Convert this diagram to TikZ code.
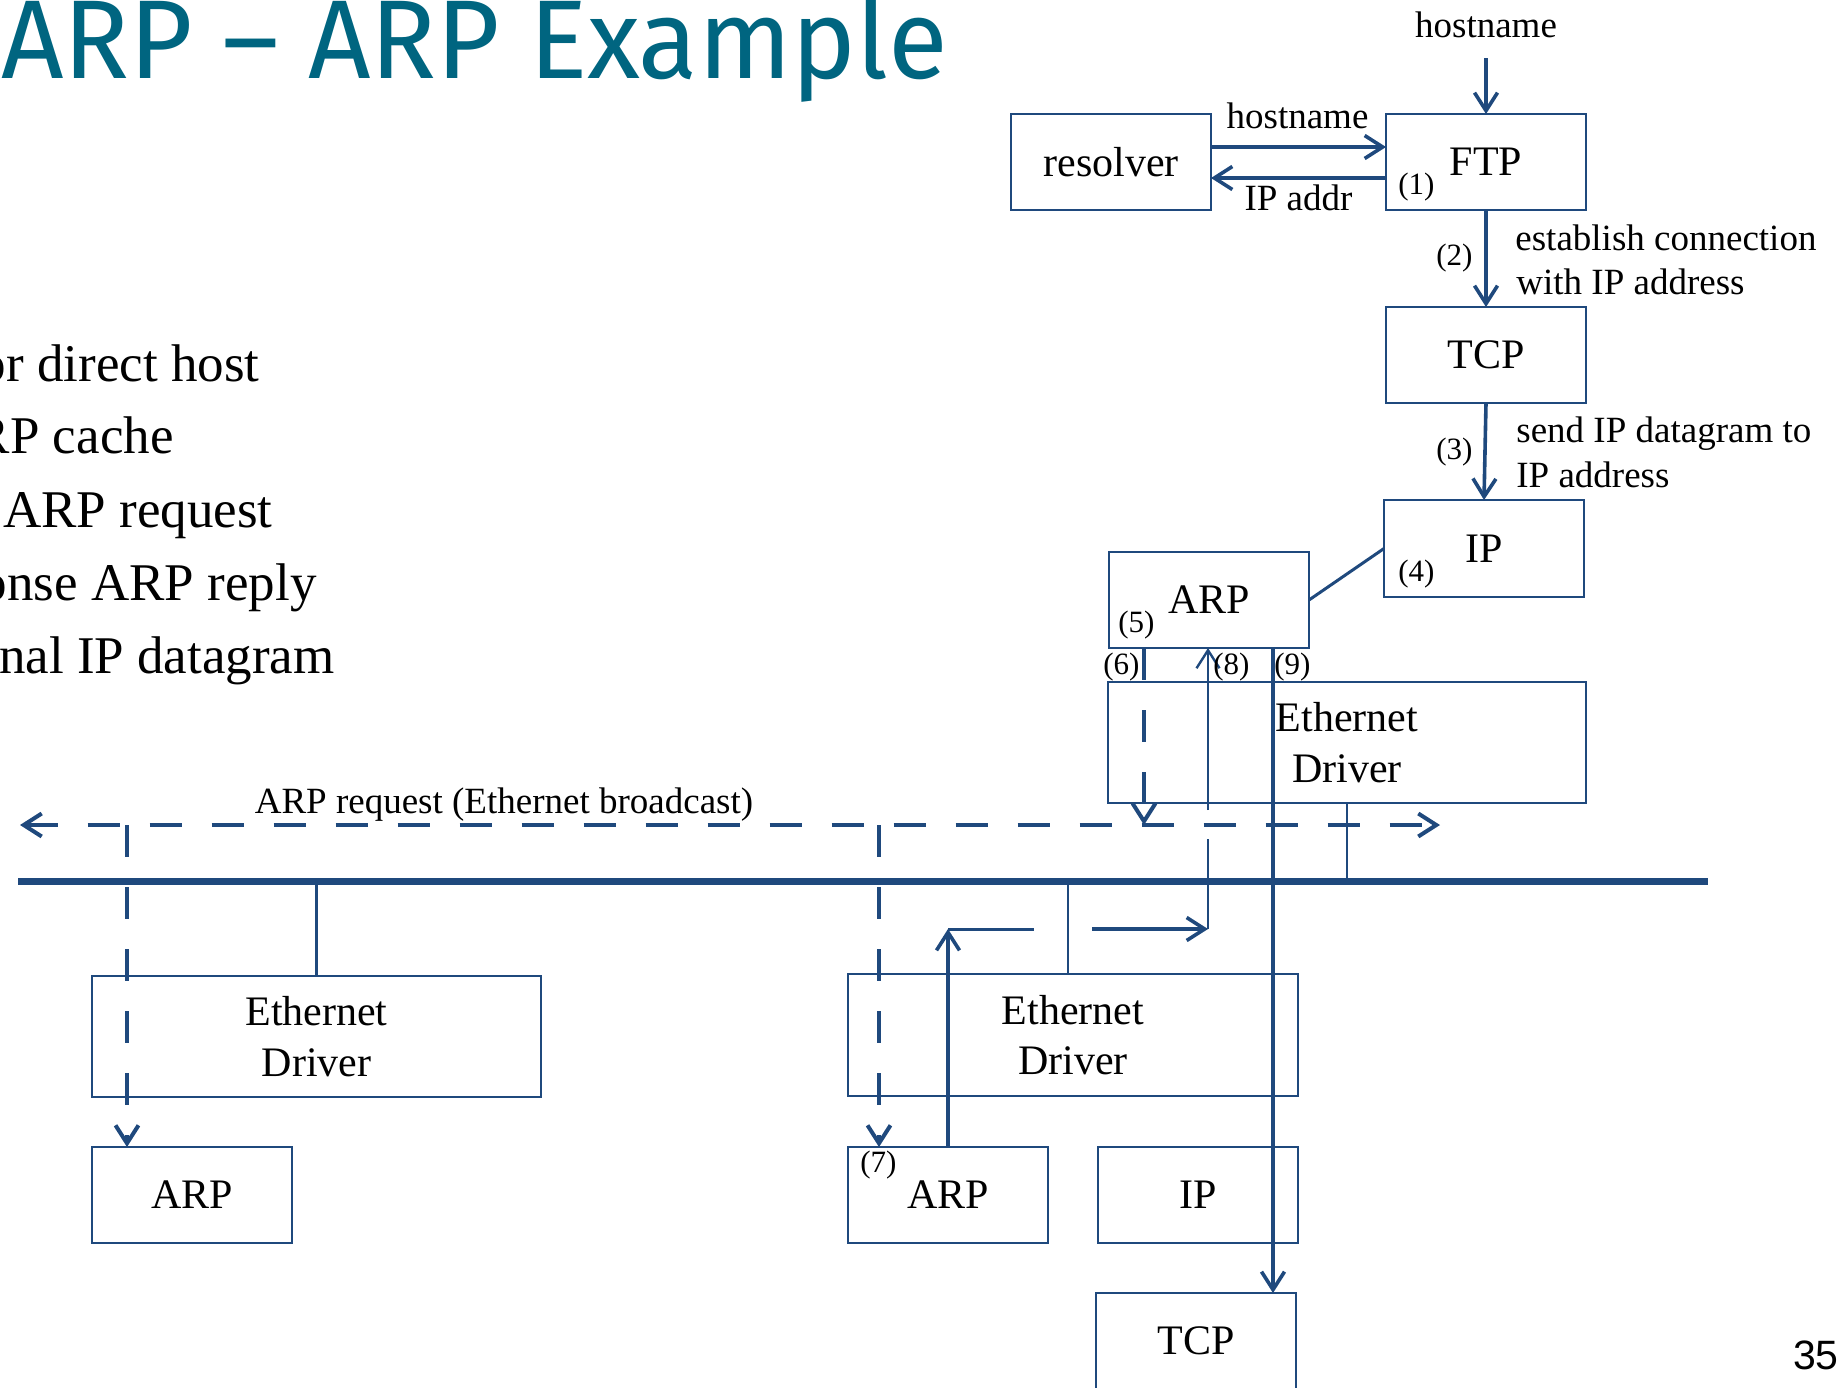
\documentclass[tikz,border=0pt]{standalone}
\usepackage{fontspec}
\setmainfont{Liberation Serif}
\newfontfamily\titlefont{Fira Sans}
\newfontfamily\pagefont{Liberation Sans}
\usetikzlibrary{arrows.meta}
\definecolor{lineblue}{RGB}{31,73,125}
\definecolor{titleteal}{RGB}{0,101,128}
\begin{document}
\begin{tikzpicture}[x=0.5pt,y=-0.5pt,
  box/.style={draw=lineblue,line width=1pt,inner sep=0pt,outer sep=0pt,align=center,font=\fontsize{21}{25.2}\selectfont},
  tip/.style={-{Straight Barb[length=9pt,width=11.5pt]}},
  arrowline/.style={draw=lineblue,line width=1.8pt,tip},
  plainline/.style={draw=lineblue,line width=1.5pt},
  thinline/.style={draw=lineblue,line width=1.3pt},
  thinarrow/.style={draw=lineblue,line width=1.2pt,tip},
  dsh/.style={draw=lineblue,line width=2pt,dash pattern=on 16pt off 15pt},
  buslinestyle/.style={draw=lineblue,line width=3.75pt},
  lbl/.style={font=\fontsize{18.5}{22.2}\selectfont,inner sep=0pt,anchor=base west},
  num/.style={font=\fontsize{15.5}{18}\selectfont,inner sep=0pt,anchor=base west},
  bul/.style={font=\fontsize{26.5}{31}\selectfont,inner sep=0pt,anchor=base east}
]
\useasboundingbox (0,0) rectangle (1847,1387);

% title and page number
\node[anchor=base east,inner sep=0pt,text=titleteal,font=\titlefont\fontsize{56}{60}\selectfont] (title) at (948,78) {\scalebox{0.975}[1]{RARP – ARP Example}};
\node[anchor=base east,inner sep=0pt,font=\pagefont\fontsize{20.5}{24}\selectfont] (pg) at (1839,1369) {35};

% bullet text (clipped at left)
\node[bul] (b1) at (260,381) {or direct host};
\node[bul] (b2) at (174,453) {RP cache};
\node[bul] (b3) at (273,527) {ARP request};
\node[bul] (b4) at (317,600) {onse ARP reply};
\node[bul] (b5) at (335,673) {nal IP datagram};

% boxes
\node[box,minimum width=100pt,minimum height=48pt] (resolver) at (1111,162) {resolver};
\node[box,minimum width=100pt,minimum height=48pt] (FTP) at (1486,162) {FTP};
\node[box,minimum width=100pt,minimum height=48pt] (TCP) at (1486,355) {TCP};
\node[box,minimum width=100pt,minimum height=48.5pt] (IP) at (1484,548.5) {IP};
\node[box,minimum width=100pt,minimum height=48pt] (ARP1) at (1209,600) {ARP};
\node[box,minimum width=239pt,minimum height=60.5pt] (Eth1) at (1347,742.5) {Ethernet\\Driver};
\node[box,minimum width=224.5pt,minimum height=60.5pt] (EthL) at (316.5,1036.5) {Ethernet\\Driver};
\node[box,minimum width=100pt,minimum height=48pt] (ARPL) at (192,1195) {ARP};
\node[box,minimum width=225pt,minimum height=61pt] (EthM) at (1073,1035) {Ethernet\\Driver};
\node[box,minimum width=100pt,minimum height=48pt] (ARPM) at (948,1195) {ARP};
\node[box,minimum width=100pt,minimum height=48pt] (IPM) at (1198,1195) {IP};
\node[box,minimum width=100pt,minimum height=48pt] (TCPM) at (1196,1341) {TCP};

% helper coordinates
\coordinate (hin) at (1486,58);
\coordinate (ya) at (0,147);
\coordinate (yb) at (0,178);
\coordinate (busL) at (18,881.5);
\coordinate (busR) at (1708,881.5);
\coordinate (dL) at (20,825);
\coordinate (dR) at (1440,825);
\coordinate (dv1) at (127,825);
\coordinate (dv2) at (879,825);
\coordinate (x6) at (1144,0);
\coordinate (x9) at (1273,0);
\coordinate (r1) at (948,929);
\coordinate (r2) at (1034,929);
\coordinate (r3) at (1092,929);
\coordinate (r4) at (1208,929);
\coordinate (r5) at (1208,839);
\coordinate (r6) at (1208,810);

% upper host connectors
\draw[arrowline] (hin) -- (FTP.north);
\draw[arrowline] (resolver.east |- ya) -- (FTP.west |- ya);
\draw[arrowline] (FTP.west |- yb) -- (resolver.east |- yb);
\draw[arrowline] (FTP.south) -- (TCP.north);
\draw[arrowline] (TCP.south) -- (IP.north);
\draw[plainline] (ARP1.east) -- (IP.west);

% bus connectors
\draw[thinline] (Eth1.south) -- (Eth1.south |- busL);
\draw[thinline] (EthL.north) -- (EthL.north |- busL);
\draw[thinline] ([xshift=-2.5pt]EthM.north) -- ([xshift=-2.5pt]EthM.north |- busL);

% broadcast (dashed)
\draw[dsh,{Straight Barb[length=9pt,width=11.5pt]}-{Straight Barb[length=9pt,width=11.5pt]}] (dL) -- (dR);
\draw[dsh,tip] (ARP1.south -| x6) -- (dL -| x6);
\draw[dsh,tip] (dv1) -- (ARPL.north -| dv1);
\draw[dsh,tip] (dv2) -- (ARPM.north -| dv2);

% ARP reply
\draw[arrowline] (ARPM.north) -- (r1);
\draw[plainline] (r1) -- (r2);
\draw[arrowline] (r3) -- (r4);
\draw[thinline] (r4) -- (r5);
\draw[thinarrow] (r6) -- (ARP1.south -| r6);

% IP datagram to TCP
\draw[arrowline] (ARP1.south -| x9) -- (TCPM.north -| x9);

% bus
\draw[buslinestyle] (busL) -- (busR);

% labels
\node[lbl,anchor=base] (lh1) at (1486,37) {hostname};
\node[lbl,anchor=base] (lh2) at (1297.5,128) {hostname};
\node[lbl,anchor=base] (lip) at (1298.5,210) {IP addr};
\node[lbl] (le1) at (1515,250) {establish connection};
\node[lbl] (le2) at (1516,294) {with IP address};
\node[lbl] (ls1) at (1516,442) {send IP datagram to};
\node[lbl] (ls2) at (1516,487) {IP address};
\node[lbl,anchor=base] (lreq) at (504,813) {ARP request (Ethernet broadcast)};

\node[num] (n1) at (1398,194) {(1)};
\node[num] (n2) at (1436,265) {(2)};
\node[num] (n3) at (1436,459) {(3)};
\node[num] (n4) at (1398,581) {(4)};
\node[num] (n5) at (1118,632) {(5)};
\node[num] (n6) at (1103,674) {(6)};
\node[num] (n8) at (1213,674) {(8)};
\node[num] (n9) at (1274,674) {(9)};
\node[num] (n7) at (860,1172) {(7)};
\end{tikzpicture}
\end{document}
